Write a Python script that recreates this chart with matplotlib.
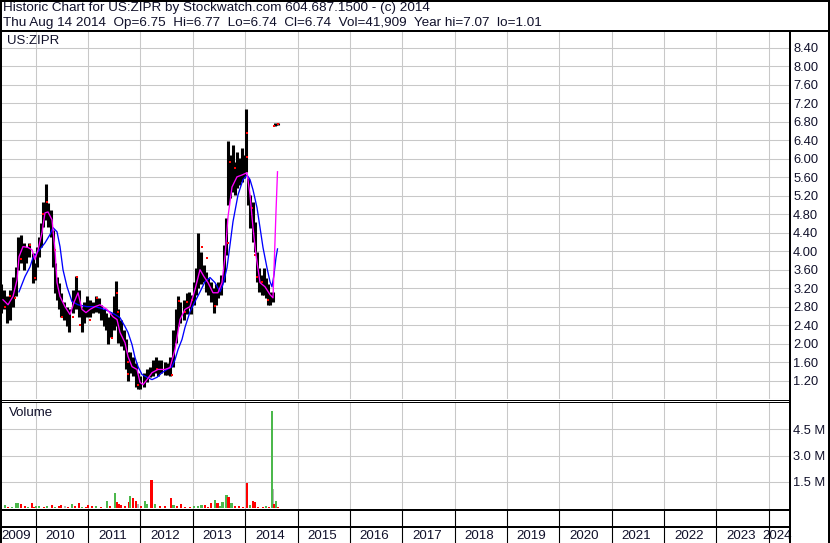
import numpy as np
import matplotlib
matplotlib.use('Agg')
import matplotlib.pyplot as plt
from matplotlib.lines import Line2D

plt.rcParams['font.family'] = ['Liberation Sans', 'DejaVu Sans']

# --- price bars (decimal year, high, low) ---
bar_dates = [2009.337, 2009.394, 2009.452, 2009.509, 2009.566, 2009.624, 2009.662, 2009.710,
             2009.767, 2009.824, 2009.881, 2009.939, 2009.986, 2010.025, 2010.063, 2010.101,
             2010.139, 2010.187, 2010.235, 2010.292, 2010.330, 2010.368, 2010.407, 2010.445,
             2010.483, 2010.540, 2010.598, 2010.645, 2010.712, 2010.770, 2010.827, 2010.875,
             2010.922, 2010.980, 2011.037, 2011.094, 2011.152, 2011.209, 2011.248, 2011.295,
             2011.343, 2011.390, 2011.438, 2011.486, 2011.533, 2011.581, 2011.629, 2011.677,
             2011.724, 2011.763, 2011.810, 2011.858, 2011.906, 2011.954, 2012.001, 2012.059,
             2012.116, 2012.183, 2012.240, 2012.288, 2012.345, 2012.402, 2012.460, 2012.507,
             2012.565, 2012.622, 2012.670, 2012.718, 2012.765, 2012.832, 2012.880, 2012.928,
             2012.966, 2013.014, 2013.061, 2013.109, 2013.157, 2013.205, 2013.252, 2013.300,
             2013.348, 2013.396, 2013.443, 2013.491, 2013.539, 2013.587, 2013.634, 2013.673,
             2013.720, 2013.768, 2013.806, 2013.844, 2013.892, 2013.940, 2013.978, 2014.016,
             2014.054, 2014.102, 2014.150, 2014.188, 2014.227, 2014.274, 2014.322, 2014.360,
             2014.398, 2014.437, 2014.484, 2014.532, 2014.561, 2014.589, 2014.618]
bar_high = [3.28, 3.17, 3.02, 3.17, 3.45, 3.66, 4.31, 4.36, 4.18, 4.10, 4.18, 3.97, 3.75, 4.10,
            4.31, 4.62, 5.07, 5.46, 5.05, 4.90, 4.46, 3.75, 3.45, 3.32, 3.10, 2.89, 2.80, 2.74,
            3.17, 3.47, 3.17, 2.80, 2.89, 3.02, 2.95, 2.89, 3.02, 2.99, 2.84, 2.74, 2.67, 2.58,
            2.67, 3.02, 3.36, 2.74, 2.52, 2.30, 2.09, 1.81, 1.81, 1.72, 1.59, 1.37, 1.29, 1.37,
            1.44, 1.50, 1.65, 1.70, 1.65, 1.65, 1.61, 1.59, 1.72, 2.30, 2.74, 3.02, 2.89, 2.95,
            3.10, 3.12, 3.06, 3.34, 3.64, 4.40, 3.99, 3.71, 3.56, 3.43, 3.34, 3.21, 3.28, 3.34,
            3.49, 4.14, 4.72, 6.39, 6.09, 6.30, 5.94, 6.15, 6.02, 6.24, 6.09, 7.07, 5.59, 5.22,
            5.07, 4.64, 3.99, 3.64, 3.49, 3.64, 3.43, 3.28, 3.12, 3.12, 6.77, 6.76, 6.77]
bar_low = [2.67, 2.74, 2.45, 2.52, 2.80, 3.02, 3.60, 3.75, 3.60, 3.75, 3.88, 3.32, 3.38, 3.66,
           3.88, 4.10, 4.53, 4.68, 4.53, 4.31, 3.66, 3.10, 2.95, 2.74, 2.58, 2.52, 2.37, 2.26,
           2.67, 2.74, 2.58, 2.26, 2.45, 2.58, 2.58, 2.67, 2.69, 2.67, 2.52, 2.37, 2.30, 1.98,
           2.15, 2.30, 2.37, 2.02, 1.94, 1.87, 1.44, 1.18, 1.37, 1.29, 1.07, 1.01, 1.01, 1.05,
           1.16, 1.27, 1.29, 1.37, 1.29, 1.37, 1.33, 1.33, 1.29, 1.50, 2.02, 2.37, 2.45, 2.52,
           2.63, 2.78, 2.63, 2.84, 3.06, 3.21, 3.28, 3.34, 3.12, 3.06, 2.91, 2.67, 2.84, 2.99,
           3.06, 3.34, 3.92, 5.01, 5.16, 5.29, 5.22, 5.37, 5.44, 5.50, 5.59, 5.72, 5.01, 4.51,
           4.21, 3.99, 3.34, 3.12, 3.06, 3.06, 2.99, 2.84, 2.84, 2.89, 6.72, 6.73, 6.74]

# red close ticks
mark_dates = [2009.413, 2009.509, 2009.604, 2009.719, 2009.891, 2009.986, 2010.139, 2010.216,
              2010.368, 2010.502, 2010.712, 2010.789, 2010.846, 2011.037, 2011.171, 2011.457,
              2011.553, 2011.572, 2011.763, 2011.770, 2011.954, 2012.317, 2012.603, 2012.737,
              2012.851, 2012.890, 2012.985, 2013.176, 2013.271, 2013.424, 2013.673, 2013.711,
              2013.806, 2014.035, 2014.040, 2014.131, 2014.188, 2014.227, 2014.322, 2014.437,
              2014.542, 2014.622]
mark_prices = [2.80, 3.02, 2.99, 3.84, 4.14, 3.43, 4.81, 5.07, 4.03, 2.58, 2.58, 3.45, 2.41,
               2.52, 2.99, 2.13, 3.10, 2.69, 1.61, 1.35, 1.11, 1.44, 1.33, 2.93, 2.69, 2.89,
               2.95, 4.10, 3.86, 2.82, 4.18, 5.94, 5.81, 6.04, 6.56, 4.94, 3.92, 3.45, 3.34,
               2.95, 6.71, 6.76]

# moving averages
ma_fast_dates = [2009.375, 2009.471, 2009.566, 2009.643, 2009.681, 2009.757, 2009.853, 2009.929,
                 2009.986, 2010.044, 2010.120, 2010.177, 2010.235, 2010.311, 2010.368, 2010.407,
                 2010.464, 2010.559, 2010.655, 2010.731, 2010.808, 2010.884, 2010.960, 2011.037,
                 2011.132, 2011.228, 2011.362, 2011.476, 2011.553, 2011.610, 2011.705, 2011.763,
                 2011.839, 2011.935, 2011.992, 2012.049, 2012.126, 2012.221, 2012.336, 2012.469,
                 2012.565, 2012.660, 2012.756, 2012.851, 2012.947, 2013.042, 2013.138, 2013.214,
                 2013.291, 2013.386, 2013.481, 2013.558, 2013.615, 2013.673, 2013.749, 2013.844,
                 2013.940, 2014.035, 2014.093, 2014.150, 2014.207, 2014.284, 2014.379, 2014.475,
                 2014.532, 2014.561, 2014.589, 2014.618]
ma_fast = [2.95, 2.84, 3.02, 3.38, 3.88, 4.10, 4.08, 4.03, 3.82, 4.03, 4.40, 4.83, 4.85, 4.68,
           4.03, 3.32, 3.02, 2.80, 2.63, 2.89, 3.10, 2.74, 2.67, 2.74, 2.80, 2.84, 2.74, 2.58,
           2.52, 2.24, 2.02, 1.72, 1.50, 1.44, 1.16, 1.11, 1.22, 1.37, 1.44, 1.44, 1.48, 1.87,
           2.52, 2.74, 2.80, 3.17, 3.60, 3.45, 3.32, 3.10, 3.10, 3.32, 3.88, 4.75, 5.39, 5.61,
           5.65, 5.70, 5.22, 4.51, 3.92, 3.32, 3.23, 3.06, 2.99, 3.92, 4.85, 5.72]

ma_slow_dates = [2009.681, 2009.795, 2009.891, 2009.948, 2010.044, 2010.177, 2010.273, 2010.330,
                 2010.407, 2010.464, 2010.521, 2010.598, 2010.693, 2010.808, 2010.980, 2011.132,
                 2011.323, 2011.514, 2011.610, 2011.705, 2011.763, 2011.839, 2011.896, 2011.954,
                 2012.030, 2012.126, 2012.221, 2012.317, 2012.412, 2012.507, 2012.603, 2012.660,
                 2012.718, 2012.794, 2012.851, 2012.947, 2013.042, 2013.138, 2013.233, 2013.329,
                 2013.424, 2013.520, 2013.577, 2013.653, 2013.711, 2013.768, 2013.864, 2013.959,
                 2014.035, 2014.093, 2014.150, 2014.227, 2014.284, 2014.341, 2014.417, 2014.475,
                 2014.513, 2014.551, 2014.589, 2014.618]
ma_slow = [3.12, 3.45, 3.66, 3.86, 3.99, 4.18, 4.36, 4.51, 4.42, 4.10, 3.60, 3.23, 2.91, 2.84,
           2.80, 2.80, 2.74, 2.63, 2.56, 2.37, 2.24, 1.98, 1.70, 1.50, 1.33, 1.27, 1.22, 1.27,
           1.37, 1.44, 1.50, 1.65, 1.87, 2.09, 2.35, 2.69, 2.91, 3.12, 3.34, 3.43, 3.32, 3.12,
           3.28, 3.64, 4.14, 4.64, 5.22, 5.55, 5.65, 5.55, 5.33, 4.94, 4.51, 4.08, 3.64, 3.34,
           3.23, 3.49, 3.86, 4.05]

# --- volume (millions of shares), direction of the day ---
vol_dates = [2009.337, 2009.413, 2009.471, 2009.547, 2009.624, 2009.662, 2009.719, 2009.795,
             2009.853, 2009.929, 2009.967, 2010.006, 2010.063, 2010.158, 2010.216, 2010.311,
             2010.368, 2010.445, 2010.483, 2010.559, 2010.617, 2010.693, 2010.750, 2010.827,
             2010.884, 2010.960, 2010.999, 2011.075, 2011.151, 2011.247, 2011.362, 2011.419,
             2011.514, 2011.553, 2011.581, 2011.629, 2011.705, 2011.782, 2011.801, 2011.858,
             2011.915, 2011.954, 2012.011, 2012.087, 2012.126, 2012.211, 2012.278, 2012.374,
             2012.469, 2012.584, 2012.632, 2012.699, 2012.775, 2012.851, 2012.947, 2013.023,
             2013.100, 2013.166, 2013.233, 2013.291, 2013.348, 2013.424, 2013.472, 2013.520,
             2013.567, 2013.644, 2013.682, 2013.739, 2013.806, 2013.883, 2013.959, 2014.035,
             2014.093, 2014.150, 2014.179, 2014.245, 2014.341, 2014.398, 2014.456, 2014.528,
             2014.507, 2014.551, 2014.589, 2014.628]
vol_values = [0.07, 0.17, 0.07, 0.06, 0.29, 0.29, 0.23, 0.11, 0.06, 0.29, 0.07, 0.10, 0.10,
              0.07, 0.10, 0.17, 0.07, 0.11, 0.17, 0.10, 0.07, 0.23, 0.10, 0.29, 0.07, 0.07,
              0.17, 0.10, 0.10, 0.07, 0.40, 0.10, 0.86, 0.33, 0.23, 0.17, 0.10, 0.36, 0.67,
              0.55, 0.40, 0.23, 0.10, 0.38, 0.23, 1.60, 0.23, 0.10, 0.10, 0.57, 0.17, 0.10,
              0.23, 0.07, 0.06, 0.10, 0.10, 0.17, 0.17, 0.07, 0.29, 0.44, 0.27, 0.10, 0.36,
              0.74, 0.63, 0.29, 0.13, 0.13, 0.07, 1.43, 0.17, 0.40, 0.33, 0.07, 0.06, 0.13,
              0.06, 1.09, 5.55, 0.23, 0.40, 0.06]
vol_dir = ['down', 'up', 'down', 'up', 'up', 'up', 'down', 'down', 'up', 'down', 'down', 'up',
           'up', 'down', 'up', 'down', 'up', 'down', 'down', 'flat', 'down', 'up', 'down',
           'down', 'up', 'down', 'down', 'down', 'up', 'down', 'up', 'down', 'up', 'down',
           'down', 'down', 'down', 'down', 'up', 'down', 'down', 'flat', 'down', 'up', 'up',
           'down', 'up', 'down', 'down', 'down', 'up', 'down', 'down', 'down', 'down', 'up',
           'up', 'up', 'down', 'down', 'down', 'up', 'down', 'up', 'up', 'up', 'down', 'up',
           'down', 'down', 'down', 'down', 'up', 'down', 'down', 'down', 'down', 'up', 'down',
           'flat', 'up', 'down', 'up', 'down']

price_ticks = [0.80, 1.20, 1.60, 2.00, 2.40, 2.80, 3.20, 3.60, 4.00, 4.40, 4.80, 5.20, 5.60,
               6.00, 6.40, 6.80, 7.20, 7.60, 8.00, 8.40]
vol_ticks = [1.5, 3.0, 4.5]
years = list(range(2009, 2025))

# --- layout in pixels ---
W, H = 830, 543
X_LO, X_HI = 2009.318, 2024.387
GRID = '#c8c8c8'
TXT = '#10102a'
dir_colors = {'up': '#4cb84c', 'down': '#ff0000', 'flat': '#b4b4b4'}

fig = plt.figure(figsize=(W / 100, H / 100), dpi=100)
fig.patch.set_facecolor('white')


def box(x0, y0, x1, y1):
    return [x0 / W, 1 - y1 / H, (x1 - x0) / W, (y1 - y0) / H]


def hline(y, x0, x1, lw):
    fig.add_artist(Line2D([x0 / W, x1 / W], [1 - y / H, 1 - y / H], color='black',
                          lw=lw * 0.72, transform=fig.transFigure, solid_capstyle='butt'))


def vline(x, y0, y1, lw):
    fig.add_artist(Line2D([x / W, x / W], [1 - y0 / H, 1 - y1 / H], color='black',
                          lw=lw * 0.72, transform=fig.transFigure, solid_capstyle='butt'))


def setup(ax):
    ax.set_xlim(X_LO, X_HI)
    for s in ax.spines.values():
        s.set_visible(False)
    ax.set_xticks(years[1:])
    ax.tick_params(axis='x', bottom=False, labelbottom=False)
    ax.set_axisbelow(True)


# price panel
ax = fig.add_axes(box(0, 32, 789, 399))
setup(ax)
ax.set_ylim(8.40 - 351 / 46.25, 8.40 + 16 / 46.25)
ax.grid(True, color=GRID, lw=0.75)
ax.yaxis.tick_right()
ax.set_yticks(price_ticks)
ax.set_yticklabels([''] + ['%.2f' % v for v in price_ticks[1:]])
ax.tick_params(axis='y', length=0, pad=3, labelsize=9.3, labelcolor=TXT)
ax.vlines(bar_dates, bar_low, bar_high, color='black', lw=2.2)
ax.plot(mark_dates, mark_prices, 's', color='#ff0000', ms=2.1, mew=0)
ax.plot(ma_slow_dates, ma_slow, color='#0000ff', lw=0.95)
ax.plot(ma_fast_dates, ma_fast, color='#ff00ff', lw=0.95)
ax.text(0.009, 0.992, 'US:ZIPR', transform=ax.transAxes, ha='left', va='top',
        fontsize=9.5, color=TXT)

# volume panel
axv = fig.add_axes(box(0, 402, 789, 509))
setup(axv)
axv.set_ylim(-0.057, 6.07)
axv.grid(True, color=GRID, lw=0.75)
axv.yaxis.tick_right()
axv.set_yticks(vol_ticks)
axv.set_yticklabels(['%.1f M' % v for v in vol_ticks])
axv.tick_params(axis='y', length=0, pad=3, labelsize=9.3, labelcolor=TXT)
axv.bar(vol_dates, vol_values, width=0.042, color=[dir_colors[d] for d in vol_dir],
        linewidth=0)
axv.text(0.011, 0.95, 'Volume', transform=axv.transAxes, ha='left', va='top',
         fontsize=9.5, color=TXT)

# empty strip and year row
for y0, y1 in [(510, 527), (528, 543)]:
    a = fig.add_axes(box(0, y0, 789, y1))
    a.set_xlim(X_LO, X_HI)
    a.set_ylim(0, 1)
    a.axis('off')
    for yr in years[1:]:
        a.axvline(yr, color='black', lw=0.8)
    if y0 == 528:
        for yr in years:
            c0, c1 = max(yr, X_LO), min(yr + 1, X_HI)
            a.text((c0 + c1) / 2 - 0.03, 0.45, str(yr), ha='center', va='center',
                   fontsize=9.6, color=TXT)

# header
fig.text(3 / W, 1 - 8.5 / H, 'Historic Chart for US:ZIPR by Stockwatch.com 604.687.1500 - (c) 2014',
         ha='left', va='center', fontsize=9.7, color=TXT)
fig.text(3 / W, 1 - 23 / H,
         'Thu Aug 14 2014  Op=6.75  Hi=6.77  Lo=6.74  Cl=6.74  Vol=41,909  Year hi=7.07  lo=1.01',
         ha='left', va='center', fontsize=9.7, color=TXT)

# frame lines
hline(1, 0, W, 2)
hline(31, 0, W, 2)
hline(399.5, 0, 789, 1)
hline(401.8, 0, 789, 1)
hline(509.5, 0, 789, 2)
hline(527.2, 0, 789, 2)
vline(1, 0, H, 2)
vline(829, 0, H, 2)
vline(789.5, 31, H, 2)

fig.savefig('out.png', dpi=100)
